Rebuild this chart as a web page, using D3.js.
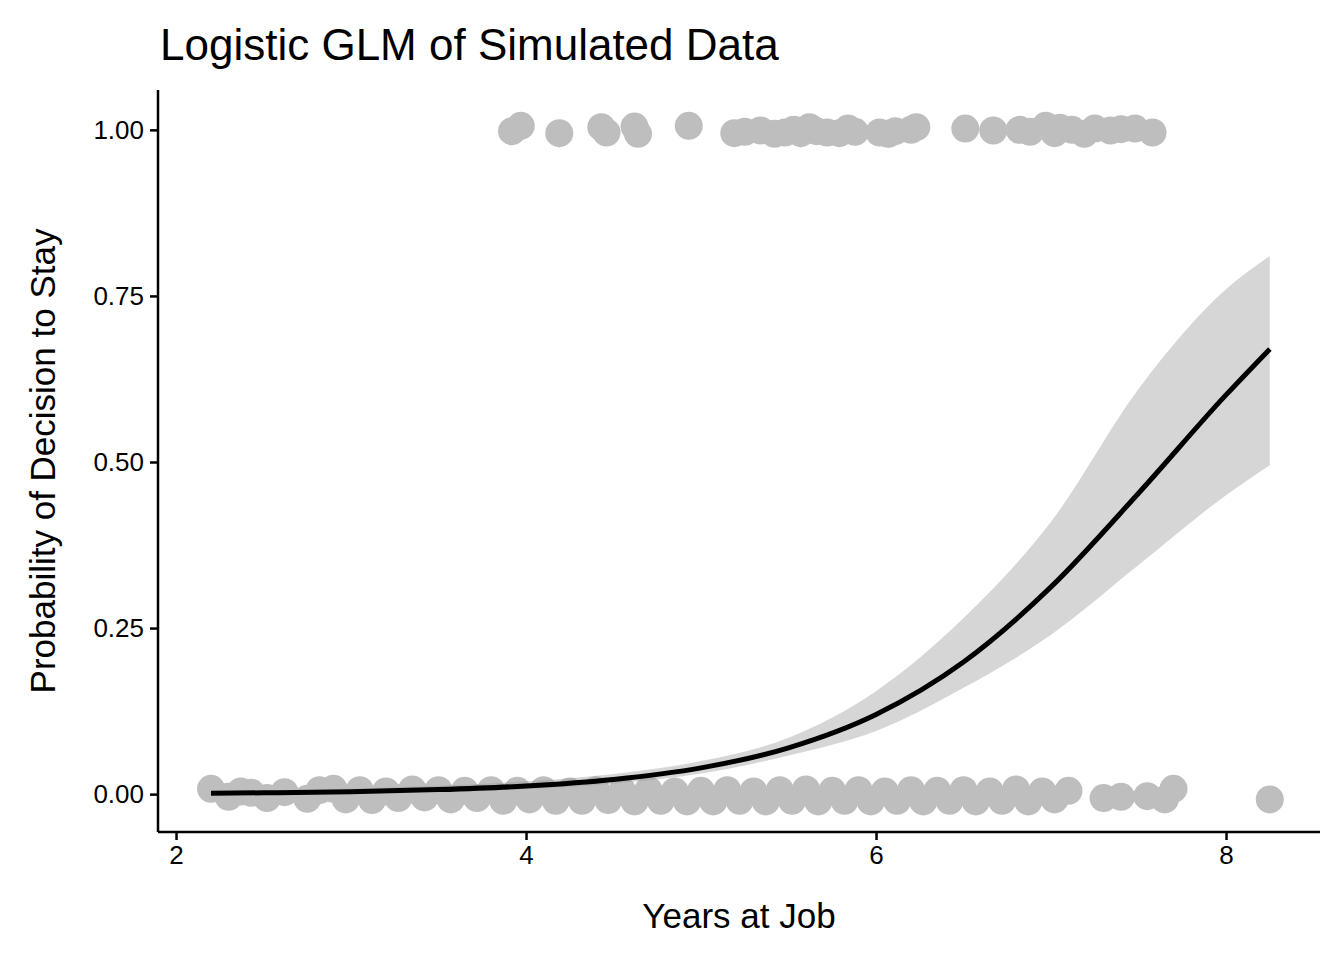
<!DOCTYPE html>
<html>
<head>
<meta charset="utf-8">
<script src="https://cdn.jsdelivr.net/npm/d3@7"></script>
<style>
  body { margin: 0; background: #fff; }
  text { font-family: Arial, "Liberation Sans", sans-serif; }
</style>
</head>
<body>
<div id="chart"></div>
<script>
const width = 1344;
const height = 960;

// jittered observations: stayed (≈1) and left (≈0)
const stayX = [3.92, 3.97, 4.19, 4.43, 4.46, 4.62, 4.64, 4.93, 5.19, 5.25, 5.34, 5.42, 5.48, 5.53, 5.57, 5.62, 5.66, 5.72, 5.79, 5.84, 5.88, 6.02, 6.07, 6.11, 6.2, 6.23, 6.51, 6.67, 6.82, 6.88, 6.97, 7.02, 7.05, 7.12, 7.19, 7.25, 7.34, 7.4, 7.48, 7.58];
const stayY = [0.998, 1.006, 0.995, 1.004, 0.996, 1.005, 0.994, 1.006, 0.995, 0.997, 0.999, 0.994, 0.996, 1.0, 0.995, 1.004, 0.998, 0.996, 0.995, 1.002, 0.997, 0.996, 0.994, 0.998, 1.0, 1.004, 1.002, 0.999, 1.0, 0.997, 1.006, 0.995, 1.003, 1.0, 0.994, 1.002, 0.999, 1.001, 1.002, 0.996];

const leaveX = [2.2, 2.3, 2.37, 2.43, 2.52, 2.62, 2.75, 2.82, 2.9, 2.97, 3.05, 3.12, 3.2, 3.27, 3.35, 3.42, 3.5, 3.57, 3.65, 3.72, 3.8, 3.87, 3.95, 4.02, 4.1, 4.17, 4.25, 4.32, 4.4, 4.47, 4.55, 4.62, 4.7, 4.77, 4.85, 4.92, 5.0, 5.07, 5.15, 5.22, 5.3, 5.37, 5.45, 5.52, 5.6, 5.67, 5.75, 5.82, 5.9, 5.97, 6.05, 6.12, 6.2, 6.27, 6.35, 6.42, 6.5, 6.57, 6.65, 6.72, 6.8, 6.87, 6.95, 7.02, 7.1, 7.3, 7.4, 7.55, 7.65, 7.7, 8.25];
const leaveY = [0.008, -0.004, 0.004, 0.002, -0.006, 0.003, -0.007, 0.006, 0.008, -0.008, 0.006, -0.009, 0.004, -0.006, 0.007, -0.005, 0.006, -0.008, 0.005, -0.006, 0.006, -0.01, 0.005, -0.008, 0.006, -0.01, 0.004, -0.01, 0.006, -0.009, 0.005, -0.011, 0.006, -0.01, 0.004, -0.011, 0.005, -0.011, 0.006, -0.01, 0.004, -0.011, 0.006, -0.01, 0.007, -0.011, 0.005, -0.01, 0.006, -0.011, 0.004, -0.01, 0.006, -0.011, 0.005, -0.01, 0.006, -0.011, 0.004, -0.01, 0.007, -0.011, 0.004, -0.008, 0.005, -0.006, -0.004, -0.003, -0.008, 0.008, -0.008];

// fitted logistic curve with 95% band
const fitX  = [2.2, 2.5, 3, 3.5, 4, 4.5, 5, 5.5, 6, 6.5, 7, 7.5, 8, 8.25];
const fitP  = [0.0014, 0.002, 0.0037, 0.0068, 0.0122, 0.0221, 0.0395, 0.0698, 0.12, 0.199, 0.312, 0.453, 0.601, 0.67];
const fitLo = [0.0005, 0.0008, 0.0017, 0.0037, 0.0078, 0.016, 0.031, 0.058, 0.095, 0.16, 0.24, 0.345, 0.45, 0.495];
const fitHi = [0.0043, 0.0054, 0.0082, 0.0125, 0.0193, 0.0305, 0.0497, 0.085, 0.155, 0.265, 0.41, 0.61, 0.76, 0.81];

const xTicks = [2, 4, 6, 8];
const yTicks = [0, 0.25, 0.5, 0.75, 1];

const margin = { top: 90, right: 24, bottom: 128, left: 158 };

const svg = d3.select("#chart").append("svg")
    .attr("width", width)
    .attr("height", height);

const x = d3.scaleLinear().domain([1.897, 8.537]).range([margin.left, width - margin.right]);
const y = d3.scaleLinear().domain([-0.057, 1.06]).range([height - margin.bottom, margin.top]);

const pts = svg.append("g").attr("fill", "#bebebe");
pts.selectAll(".stay").data(stayX).enter().append("circle")
    .attr("cx", d => x(d)).attr("cy", (d, i) => y(stayY[i])).attr("r", 14);
pts.selectAll(".leave").data(leaveX).enter().append("circle")
    .attr("cx", d => x(d)).attr("cy", (d, i) => y(leaveY[i])).attr("r", 14);

const band = d3.area()
    .x(d => x(d))
    .y0((d, i) => y(fitLo[i]))
    .y1((d, i) => y(fitHi[i]))
    .curve(d3.curveMonotoneX);
svg.append("path").datum(fitX).attr("d", band).attr("fill", "#999").attr("opacity", 0.4);

const line = d3.line()
    .x(d => x(d))
    .y((d, i) => y(fitP[i]))
    .curve(d3.curveMonotoneX);
svg.append("path").datum(fitX).attr("d", line)
    .attr("fill", "none").attr("stroke", "#000").attr("stroke-width", 5);

const xAxis = svg.append("g")
    .attr("transform", `translate(0,${height - margin.bottom})`)
    .call(d3.axisBottom(x).tickValues(xTicks).tickFormat(d3.format("d")).tickSize(8).tickPadding(6));
const yAxis = svg.append("g")
    .attr("transform", `translate(${margin.left},0)`)
    .call(d3.axisLeft(y).tickValues(yTicks).tickFormat(d3.format(".2f")).tickSize(8).tickPadding(6));

[xAxis, yAxis].forEach(a => {
    a.select(".domain").attr("stroke", "#000").attr("stroke-width", 2.5);
    a.selectAll(".tick line").attr("stroke", "#000").attr("stroke-width", 2.5);
    a.selectAll(".tick text").attr("fill", "#000").style("font-size", "26px");
});
// ggplot-style: axis lines span full panel without end caps
xAxis.select(".domain").attr("d", `M${margin.left},0H${width - margin.right}`);
yAxis.select(".domain").attr("d", `M0,${height - margin.bottom}V${margin.top}`);

svg.append("text").attr("x", 160).attr("y", 60)
    .style("font-size", "44px").text("Logistic GLM of Simulated Data");

svg.append("text").attr("x", (margin.left + width - margin.right) / 2).attr("y", 928)
    .attr("text-anchor", "middle").style("font-size", "35px").text("Years at Job");

svg.append("text")
    .attr("transform", `translate(55,${(margin.top + height - margin.bottom) / 2}) rotate(-90)`)
    .attr("text-anchor", "middle").style("font-size", "35px").text("Probability of Decision to Stay");
</script>
</body>
</html>
